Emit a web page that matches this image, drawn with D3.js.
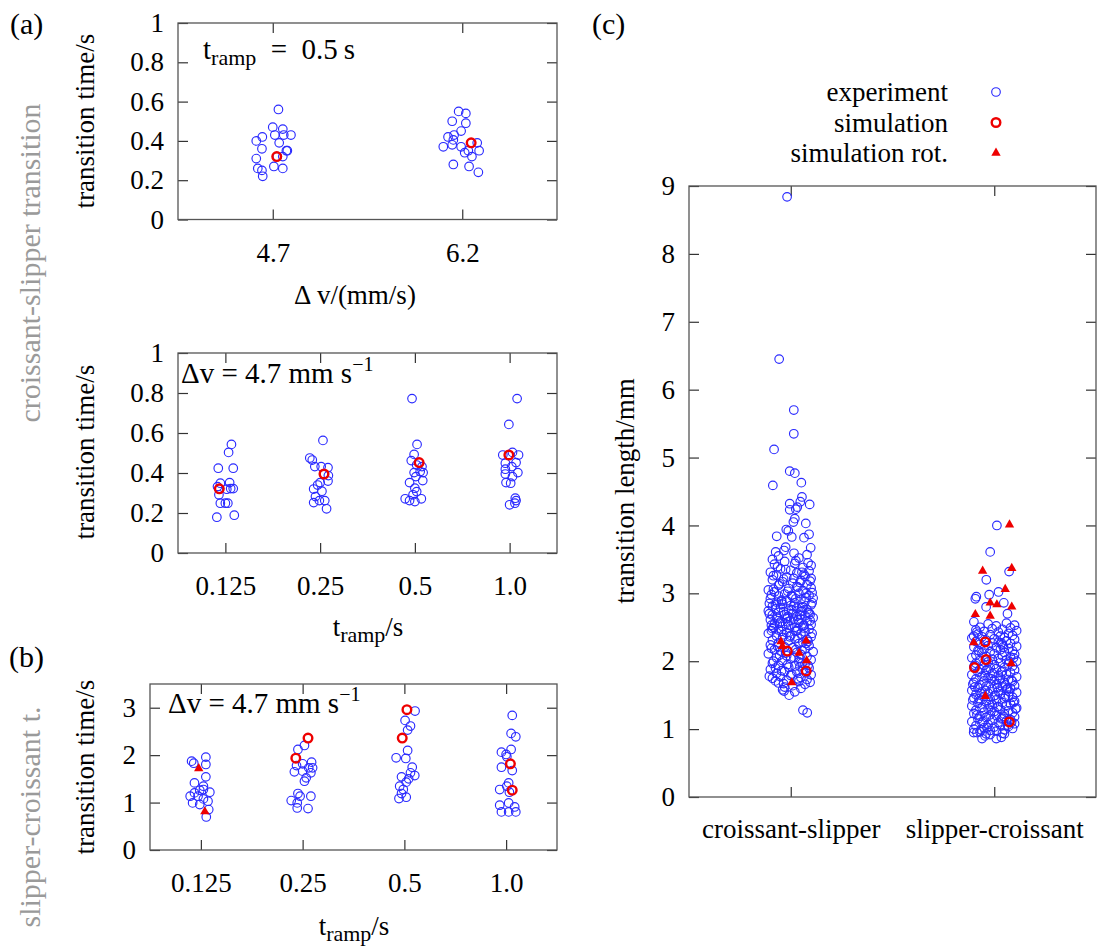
<!DOCTYPE html>
<html lang="en">
<head>
<meta charset="UTF-8">
<title>Transition times and lengths</title>
<script src="https://cdnjs.cloudflare.com/ajax/libs/d3/7.8.5/d3.min.js"></script>
<style>
  body { margin: 0; background: #fff; }
  .tick text { font-size: 27px; fill: #000; }
  .tick line { stroke: #333; stroke-width: 1.2; }
  .frame { fill: none; stroke: #555; stroke-width: 1.3; }
  .exp { fill: none; stroke: #2a2aff; stroke-width: 1.15; }
  .sim { fill: none; stroke: #ee0000; stroke-width: 2.4; }
  .rot { fill: #ee0000; }
  .lbl { font-size: 27px; fill: #000; }
  .note { font-size: 29px; fill: #000; }
  .side { font-size: 30px; fill: #9a9a9a; }
</style>
</head>
<body>
<div id="chart"></div>
<script>
// ---- data: each point is [jitter (in category units), value], grouped by category ----
var dvCats = ["4.7", "6.2"];
var rampCats = ["0.125", "0.25", "0.5", "1.0"];
var lengthCats = ["croissant-slipper", "slipper-croissant"];

var timeTicks = [0, 0.2, 0.4, 0.6, 0.8, 1];
var scTimeTicks = [0, 1, 2, 3];
var lengthTicks = [0, 1, 2, 3, 4, 5, 6, 7, 8, 9];

var legendLabels = ["experiment", "simulation", "simulation rot."];

// (a) top: t_ramp = 0.5 s
var a1Exp = [
  [[0.030,0.56],[0.000,0.47],[0.053,0.46],[0.011,0.43],[0.058,0.43],[0.096,0.43],[-0.087,0.40],[-0.055,0.42],[-0.057,0.36],[0.034,0.39],
   [0.077,0.35],[0.072,0.35],[-0.087,0.31],[0.053,0.32],[-0.079,0.26],[-0.057,0.25],[-0.053,0.22],[0.006,0.27],[0.053,0.26],[0.024,0.32]],
  [[-0.019,0.55],[0.019,0.54],[-0.053,0.50],[0.019,0.49],[-0.006,0.45],[-0.043,0.43],[-0.075,0.42],[-0.047,0.405],[-0.053,0.38],[-0.100,0.37],
   [-0.006,0.37],[0.079,0.39],[0.089,0.35],[0.013,0.34],[0.051,0.32],[-0.047,0.28],[0.036,0.27],[0.085,0.24],[0.032,0.35]]
];
var a1Sim = [[[0.021,0.32]], [[0.047,0.39]]];

// (a) bottom: dv = 4.7 mm/s
var a2Exp = [
  [[0.064,0.543],[0.034,0.503],[-0.075,0.424],[0.083,0.424],[-0.053,0.349],[0.045,0.352],[-0.083,0.332],[0.015,0.319],[0.083,0.322],[0.056,0.322],
   [-0.068,0.291],[-0.053,0.249],[0.000,0.249],[0.026,0.249],[-0.090,0.179],[0.094,0.189]],
  [[0.030,0.563],[-0.109,0.475],[-0.083,0.465],[-0.056,0.432],[0.011,0.432],[0.083,0.427],[0.038,0.395],[0.087,0.387],[0.000,0.352],[0.083,0.360],
   [-0.026,0.340],[-0.068,0.320],[0.019,0.309],[-0.049,0.282],[-0.068,0.252],[-0.008,0.262],[0.049,0.262],[0.068,0.221]],
  [[-0.030,0.772],[0.023,0.543],[-0.008,0.493],[-0.038,0.462],[0.019,0.440],[0.075,0.432],[-0.008,0.402],[0.056,0.407],[0.087,0.402],[0.011,0.382],
   [-0.056,0.352],[0.083,0.362],[0.000,0.324],[0.019,0.307],[-0.019,0.291],[-0.102,0.271],[-0.056,0.262],[0.000,0.257],[0.068,0.271]],
  [[0.079,0.772],[-0.008,0.643],[-0.072,0.490],[0.030,0.503],[0.094,0.490],[-0.045,0.449],[0.068,0.452],[-0.045,0.419],[0.023,0.432],[0.087,0.402],
   [-0.045,0.395],[0.030,0.382],[-0.038,0.352],[0.011,0.349],[0.060,0.274],[0.068,0.262],[0.000,0.241],[0.056,0.249]]
];
var a2Sim = [[[-0.064,0.321]], [[0.041,0.395]], [[0.045,0.452]], [[-0.008,0.490]]];

// (b) slipper-croissant times
var bExp = [
  [[-0.091,1.873],[0.049,1.958],[0.049,1.803],[-0.063,1.415],[0.049,1.542],[0.025,1.345],[0.025,1.275],[-0.011,1.260],[-0.063,1.204],[0.088,1.218],
   [-0.105,1.134],[-0.028,1.134],[0.025,1.077],[-0.081,0.993],[-0.011,0.958],[0.070,1.028],[0.077,0.852],[0.053,0.697],[-0.070,1.830]],
  [[0.018,2.204],[-0.046,2.120],[0.088,1.852],[0.000,1.817],[-0.060,1.780],[0.060,1.732],[0.098,1.732],[0.000,1.662],[-0.081,1.648],[0.081,1.627],
   [0.035,1.521],[0.018,1.451],[-0.046,1.190],[-0.025,1.134],[0.081,1.134],[-0.112,1.042],[-0.053,0.993],[-0.053,0.887],[0.053,0.873]],
  [[0.105,2.930],[0.007,2.732],[0.060,2.613],[0.032,2.528],[0.032,2.099],[-0.081,1.944],[0.014,1.930],[0.077,1.746],[0.060,1.627],[-0.028,1.542],
   [0.102,1.570],[0.042,1.500],[0.018,1.430],[-0.046,1.345],[-0.011,1.275],[-0.028,1.190],[-0.053,1.085],[0.018,1.113]],
  [[0.060,2.838],[0.049,2.458],[0.095,2.387],[0.049,2.120],[-0.046,2.063],[0.000,2.014],[0.007,1.965],[-0.046,1.746],[0.060,1.676],[0.025,1.415],
   [0.007,1.345],[-0.063,1.275],[0.032,1.218],[0.025,0.993],[-0.063,0.944],[0.084,0.908],[-0.046,0.803],[0.025,0.803],[0.095,0.803]]
];
var bSim = [[], [[-0.067,1.937],[0.053,2.359]], [[0.025,2.958],[-0.021,2.359]], [[0.042,1.817],[0.060,1.261]]];
var bSimRot = [[[-0.021,1.718],[0.039,0.810]], [], [], []];

// (c) transition lengths
var cExp = [
  [[-0.018,8.84],[-0.057,6.45],[0.015,5.70],[0.015,5.35],[-0.082,5.12],[-0.005,4.80],[0.020,4.77],[-0.088,4.59],[0.052,4.63],[0.055,4.42],
   [0.047,4.35],[-0.005,4.32],[0.093,4.31],[0.032,4.27],[-0.005,4.23],[0.025,4.24],[0.020,4.10],[0.013,4.05],[0.074,4.03],[-0.022,3.94],
   [-0.012,3.92],[-0.069,3.84],[0.005,3.83],[0.090,3.87],[0.065,3.82],[0.098,3.67],[-0.074,3.61],[-0.025,3.68],[0.016,3.59],[-0.033,3.63],
   [0.060,1.28],[0.081,1.24],[-0.008,1.50],[-0.033,1.56],
   [-0.06,3.55],[0.04,3.52],[-0.09,3.50],[0.08,3.57],[0.10,3.41],[-0.03,3.47],[0.02,3.44],[-0.08,3.43],[0.06,3.38],[-0.05,3.36],
   [0.09,3.33],[-0.10,3.31],[0.00,3.34],[0.03,3.30],[-0.07,3.27],[0.07,3.25],[-0.02,3.24],[0.10,3.22],[-0.09,3.20],[0.05,3.19],
   [-0.04,3.17],[0.01,3.15],[0.08,3.13],[-0.06,3.12],[-0.11,3.05],[0.03,3.10],[0.10,3.08],[-0.01,3.07],[0.06,3.04],[-0.08,3.02],
   [0.04,3.00],[-0.03,2.99],[0.09,2.97],[-0.06,2.96],[0.01,2.95],[0.11,2.93],[-0.10,2.92],[0.05,2.91],[-0.02,2.89],[0.07,2.88],
   [-0.07,2.87],[0.02,2.86],[-0.04,2.84],[0.10,2.83],[0.00,2.82],[-0.09,2.81],[0.06,2.80],[-0.05,2.79],[0.03,2.78],[0.08,2.76],
   [-0.01,2.75],[-0.11,2.74],[0.05,2.73],[-0.06,2.72],[0.09,2.71],[0.01,2.70],[-0.03,2.69],[-0.09,2.68],[0.07,2.67],[0.03,2.66],
   [-0.07,2.65],[0.11,2.64],[-0.02,2.63],[0.05,2.62],[-0.10,2.61],[0.00,2.60],[0.08,2.59],[-0.05,2.58],[0.04,2.57],[-0.08,2.55],
   [0.10,2.54],[-0.01,2.53],[0.06,2.52],[-0.04,2.51],[0.02,2.50],[-0.09,2.48],[0.09,2.47],[-0.06,2.46],[0.03,2.45],[0.07,2.43],
   [-0.02,2.42],[-0.11,2.41],[0.05,2.40],[0.00,2.38],[-0.07,2.37],[0.10,2.36],[-0.04,2.35],[0.02,2.33],[0.08,2.32],[-0.09,2.31],
   [-0.01,2.30],[0.06,2.28],[-0.06,2.27],[0.04,2.26],[-0.10,2.24],[0.09,2.23],[-0.03,2.21],[0.01,2.20],[0.07,2.18],[-0.08,2.17],
   [-0.05,2.15],[0.11,2.14],[0.03,2.13],[-0.11,2.11],[0.05,2.10],[-0.02,2.08],[0.08,2.07],[-0.07,2.05],[0.00,2.04],[0.10,2.02],
   [-0.04,2.01],[0.04,1.99],[-0.09,1.97],[0.07,1.96],[-0.06,1.94],[0.02,1.93],[-0.01,1.91],[0.09,1.90],[-0.10,1.88],[0.06,1.87],
   [-0.03,1.85],[0.03,1.84],[-0.07,1.82],[0.10,1.80],[0.00,1.79],[-0.05,1.77],[0.05,1.76],[-0.09,1.75],[0.08,1.73],[-0.02,1.72],
   [0.04,1.70],[-0.06,1.68],[0.07,1.66],[0.01,1.64],[-0.03,1.62],[0.05,1.60],[-0.04,1.58],[0.02,1.55],
   [-0.085,3.06],[0.045,3.16],[0.075,2.94],[-0.045,2.90],[0.015,2.81],[-0.075,2.77],[0.095,2.69],[-0.015,2.66],[0.035,2.61],[-0.055,2.56],
   [0.065,2.49],[-0.095,2.53],[0.025,2.44],[-0.035,2.39],[0.085,2.29],[-0.065,2.22],[0.055,2.16],[-0.025,2.12],[0.015,2.06],[-0.085,2.00],
   [0.045,1.92],[-0.045,1.86],[0.075,1.83],[-0.105,1.78],[0.035,1.74],[0.095,1.69],[-0.075,1.71],[0.005,2.97],[0.105,3.01],[-0.105,2.85],
   [0.055,2.74],[-0.015,2.58],[0.035,2.34],[-0.095,2.45],[0.065,3.28],[-0.035,3.21],[0.085,3.45],[-0.065,3.39],[0.025,3.48],[0.045,2.04],
   [-0.025,3.35],[0.055,3.31],[-0.085,3.26],[0.015,3.22],[0.095,3.18],[-0.055,3.14],[0.035,3.09],[-0.015,3.03],[0.075,3.00],[-0.095,2.98],
   [0.025,2.92],[-0.045,2.88],[0.105,2.86],[-0.075,2.83],[0.055,2.79],[0.005,2.76],[-0.035,2.73],[0.085,2.72],[-0.105,2.70],[0.045,2.68],
   [-0.065,2.63],[0.015,2.62],[0.095,2.60],[-0.025,2.55],[0.065,2.53],[-0.085,2.50],[0.035,2.48],[-0.045,2.44],[0.105,2.41],[-0.005,2.36],
   [0.075,2.26],[-0.095,2.19],[0.025,2.17],[-0.055,2.09],[0.055,1.97],[-0.015,1.95],[0.085,1.94],[-0.075,1.90],[0.005,1.81],[-0.035,1.67]],
  [[0.013,4.00],[-0.020,3.61],[-0.039,3.20],[-0.025,2.98],[0.021,3.02],[0.073,3.32],[0.047,2.86],[-0.088,2.95],[-0.093,2.92],[-0.101,2.37],
   [-0.040,2.80],[0.065,2.70],[-0.060,0.86],[0.010,0.86],[-0.101,0.95],[-0.085,0.95],[-0.045,0.90],[0.035,0.88],[0.050,0.93],[-0.020,0.92],
   [-0.10,2.58],[0.06,2.56],[-0.03,2.55],[0.10,2.53],[0.01,2.52],[-0.07,2.50],[0.08,2.49],[-0.01,2.48],[0.04,2.47],[-0.09,2.46],
   [0.11,2.45],[-0.05,2.44],[0.02,2.43],[0.07,2.41],[-0.08,2.40],[-0.02,2.39],[0.09,2.38],[0.03,2.37],[-0.06,2.36],[0.05,2.35],
   [-0.11,2.34],[0.00,2.33],[0.10,2.32],[-0.04,2.31],[0.06,2.30],[-0.09,2.29],[0.02,2.28],[-0.01,2.27],[0.08,2.26],[-0.07,2.25],
   [0.04,2.24],[-0.03,2.23],[0.11,2.22],[-0.10,2.21],[0.01,2.20],[0.07,2.19],[-0.05,2.18],[0.03,2.17],[-0.08,2.16],[0.09,2.15],
   [-0.02,2.14],[0.05,2.13],[-0.06,2.12],[0.00,2.11],[0.10,2.10],[-0.09,2.09],[0.04,2.08],[-0.04,2.07],[0.08,2.06],[-0.11,2.05],
   [0.02,2.04],[-0.01,2.03],[0.06,2.02],[-0.07,2.01],[0.11,2.00],[-0.03,1.99],[0.03,1.98],[-0.09,1.97],[0.07,1.96],[0.00,1.95],
   [-0.05,1.94],[0.09,1.93],[-0.10,1.92],[0.05,1.91],[-0.02,1.90],[0.01,1.89],[-0.07,1.88],[0.10,1.87],[-0.04,1.86],[0.04,1.85],
   [-0.08,1.84],[0.08,1.83],[-0.01,1.82],[0.06,1.81],[-0.11,1.80],[0.02,1.79],[-0.06,1.78],[0.11,1.77],[-0.03,1.76],[0.03,1.75],
   [-0.09,1.74],[0.07,1.73],[0.00,1.72],[-0.05,1.71],[0.09,1.70],[-0.10,1.69],[0.05,1.68],[-0.02,1.67],[0.01,1.66],[-0.07,1.65],
   [0.10,1.64],[-0.04,1.63],[0.04,1.62],[-0.08,1.61],[0.08,1.60],[-0.01,1.59],[0.06,1.58],[-0.11,1.57],[0.02,1.56],[-0.06,1.55],
   [0.11,1.54],[-0.03,1.53],[0.03,1.52],[-0.09,1.51],[0.07,1.50],[0.00,1.49],[-0.05,1.48],[0.09,1.47],[-0.10,1.46],[0.05,1.45],
   [-0.02,1.44],[0.01,1.43],[-0.07,1.42],[0.10,1.41],[-0.04,1.40],[0.04,1.39],[-0.08,1.38],[0.08,1.37],[-0.01,1.36],[0.06,1.35],
   [-0.11,1.34],[0.02,1.33],[-0.06,1.32],[0.11,1.31],[-0.03,1.30],[0.03,1.29],[-0.09,1.28],[0.07,1.27],[0.00,1.26],[-0.05,1.25],
   [0.09,1.24],[-0.10,1.23],[0.05,1.22],[-0.02,1.21],[0.01,1.20],[-0.07,1.19],[0.10,1.18],[-0.04,1.17],[0.04,1.16],[-0.08,1.15],
   [0.08,1.14],[-0.01,1.13],[0.06,1.12],[-0.11,1.11],[0.02,1.10],[-0.06,1.09],[0.10,1.08],[-0.03,1.07],[0.03,1.06],[-0.09,1.05],
   [0.07,1.04],[0.00,1.03],[-0.05,1.02],[0.09,1.01],[-0.10,1.00],[0.05,0.99],[-0.02,0.98],[0.01,0.97],[-0.07,0.96],[0.04,0.94],[-0.04,0.93],
   [-0.085,2.43],[0.045,2.21],[0.075,1.99],[-0.045,1.79],[0.015,1.61],[-0.075,1.45],[0.095,1.39],[-0.015,1.27],[0.035,1.15],[-0.055,1.11],
   [0.065,1.60],[-0.095,1.62],[0.025,1.71],[-0.035,1.88],[0.085,1.72],[-0.065,1.52],[0.055,1.48],[-0.025,1.36],[0.015,1.33],[-0.085,1.21],
   [0.045,1.19],[-0.045,1.57],[0.075,1.55],[-0.105,1.43],[0.035,1.84],[0.095,2.05],[-0.075,2.15],[0.005,1.50],[0.105,1.30],[-0.105,1.66],
   [0.055,1.65],[-0.015,1.74],[0.035,2.27],[-0.095,1.94],[0.065,1.06],[-0.035,1.02],[0.085,1.10],[-0.065,0.99]]
];
var cSim = [
  [[-0.017,2.15],[0.076,1.857]],
  [[-0.044,2.284],[-0.041,2.025],[-0.097,1.907],[0.074,1.105]]
];
var cSimRot = [
  [[-0.048,2.29],[-0.041,2.22],[0.041,2.12],[0.076,2.30],[0.078,2.01],[0.005,1.686]],
  [[0.075,4.01],[-0.057,3.33],[0.086,3.37],[0.054,3.06],[-0.093,2.69],[-0.020,2.86],[0.013,2.835],[0.086,2.80],[-0.020,2.667],
   [-0.101,2.275],[0.083,1.966],[-0.044,1.484]]
];

// ---- drawing ----
var svg = d3.select("#chart").append("svg")
  .attr("width", 1099)
  .attr("height", 952);

var tickLen = 10;

function drawPanel(p) {
  var x = d3.scaleLinear().domain([-0.5, p.cats.length - 0.5]).range([p.left, p.right]);
  var y = d3.scaleLinear().domain(p.ydom).range([p.bottom, p.top]);
  var g = svg.append("g");
  var idx = d3.range(p.cats.length);

  g.append("g").attr("transform", "translate(0," + p.bottom + ")")
    .call(d3.axisBottom(x).tickValues(idx).tickSize(-tickLen).tickPadding(p.xpad)
      .tickFormat(function (i) { return p.cats[i]; }))
    .select(".domain").remove();
  g.append("g").attr("transform", "translate(0," + p.top + ")")
    .call(d3.axisTop(x).tickValues(idx).tickSize(-tickLen).tickFormat(""))
    .select(".domain").remove();
  g.append("g").attr("transform", "translate(" + p.left + ",0)")
    .call(d3.axisLeft(y).tickValues(p.yticks).tickSize(-tickLen).tickPadding(14)
      .tickFormat(function (d) { return String(d); }))
    .select(".domain").remove();
  g.append("g").attr("transform", "translate(" + p.right + ",0)")
    .call(d3.axisRight(y).tickValues(p.yticks).tickSize(-tickLen).tickFormat(""))
    .select(".domain").remove();

  g.append("rect").attr("class", "frame")
    .attr("x", p.left).attr("y", p.top)
    .attr("width", p.right - p.left).attr("height", p.bottom - p.top);

  return { x: x, y: y, g: g };
}

function drawCircles(P, groups, cls) {
  groups.forEach(function (pts, i) {
    P.g.selectAll(null).data(pts).enter().append("circle")
      .attr("class", cls)
      .attr("cx", function (d) { return P.x(i + d[0]); })
      .attr("cy", function (d) { return P.y(d[1]); })
      .attr("r", 4.3);
  });
}

var tri = d3.symbol().type(d3.symbolTriangle).size(38);

function drawTriangles(P, groups) {
  groups.forEach(function (pts, i) {
    P.g.selectAll(null).data(pts).enter().append("path")
      .attr("class", "rot")
      .attr("d", tri)
      .attr("transform", function (d) {
        return "translate(" + P.x(i + d[0]) + "," + P.y(d[1]) + ")";
      });
  });
}

// rotated y title
function yTitle(x, y, txt, cls) {
  return svg.append("text").attr("class", cls)
    .attr("text-anchor", "middle")
    .attr("transform", "translate(" + x + "," + y + ") rotate(-90)")
    .text(txt);
}

// t_ramp text helper
function tRamp(sel, rest) {
  sel.append("tspan").text("t");
  sel.append("tspan").style("font-size", "22px").attr("dy", 6).text("ramp");
  sel.append("tspan").attr("dy", -6).text(rest);
}

function dvText(x, y) {
  var t = svg.append("text").attr("class", "note").attr("x", x).attr("y", y);
  t.append("tspan").text("\u0394v = 4.7 mm s");
  t.append("tspan").style("font-size", "20px").attr("dy", -12).text("\u22121");
}

// panel (a) top
var A1 = drawPanel({ cats: dvCats, ydom: [0, 1], yticks: timeTicks,
  left: 178, right: 557, top: 23, bottom: 219.5, xpad: 23 });
drawCircles(A1, a1Exp, "exp");
drawCircles(A1, a1Sim, "sim");

// panel (a) bottom
var A2 = drawPanel({ cats: rampCats, ydom: [0, 1], yticks: timeTicks,
  left: 178, right: 557, top: 353, bottom: 553, xpad: 23 });
drawCircles(A2, a2Exp, "exp");
drawCircles(A2, a2Sim, "sim");

// panel (b)
var B = drawPanel({ cats: rampCats, ydom: [0, 3.5], yticks: scTimeTicks,
  left: 150, right: 557, top: 684, bottom: 850, xpad: 23 });
drawCircles(B, bExp, "exp");
drawCircles(B, bSim, "sim");
drawTriangles(B, bSimRot);

// panel (c)
var C = drawPanel({ cats: lengthCats, ydom: [0, 9], yticks: lengthTicks,
  left: 689, right: 1096, top: 186, bottom: 797, xpad: 22 });
drawCircles(C, cExp, "exp");
drawCircles(C, cSim, "sim");
drawTriangles(C, cSimRot);

// axis titles
yTitle(94, 121, "transition time/s", "lbl");
yTitle(94, 452, "transition time/s", "lbl");
yTitle(94, 767, "transition time/s", "lbl");
yTitle(634, 491, "transition length/mm", "lbl");

svg.append("text").attr("class", "lbl").attr("x", 355).attr("y", 304)
  .attr("text-anchor", "middle").text("\u0394\u2009v/(mm/s)");
tRamp(svg.append("text").attr("class", "lbl").attr("x", 368).attr("y", 636)
  .attr("text-anchor", "middle"), "/s");
tRamp(svg.append("text").attr("class", "lbl").attr("x", 354).attr("y", 935)
  .attr("text-anchor", "middle"), "/s");

// annotations
tRamp(svg.append("text").attr("class", "note").attr("x", 203).attr("y", 59), "\u2002=\u20020.5\u2009s");
dvText(181, 383);
dvText(168, 713);

// gray side labels
yTitle(40, 263, "croissant-slipper transition", "side");
yTitle(40, 817, "slipper-croissant t.", "side");

// panel letters
svg.append("text").attr("class", "lbl").attr("x", 10).attr("y", 34).style("font-size", "30px").text("(a)");
svg.append("text").attr("class", "lbl").attr("x", 9).attr("y", 667).style("font-size", "30px").text("(b)");
svg.append("text").attr("class", "lbl").attr("x", 592).attr("y", 34).style("font-size", "30px").text("(c)");

// legend
var legend = svg.append("g");
legendLabels.forEach(function (lab, i) {
  var by = 101 + i * 30.5;
  legend.append("text").attr("class", "lbl").attr("x", 948).attr("y", by)
    .attr("text-anchor", "end").text(lab);
  if (i === 2) {
    legend.append("path").attr("class", "rot").attr("d", tri)
      .attr("transform", "translate(996," + (by - 9) + ")");
  } else {
    legend.append("circle").attr("class", i === 0 ? "exp" : "sim")
      .attr("cx", 996).attr("cy", by - 9).attr("r", 4.3);
  }
});

// serif face on every text
svg.selectAll("g").attr("font-family", null);
svg.selectAll("text").style("font-family", "'Liberation Serif'");
</script>
</body>
</html>
